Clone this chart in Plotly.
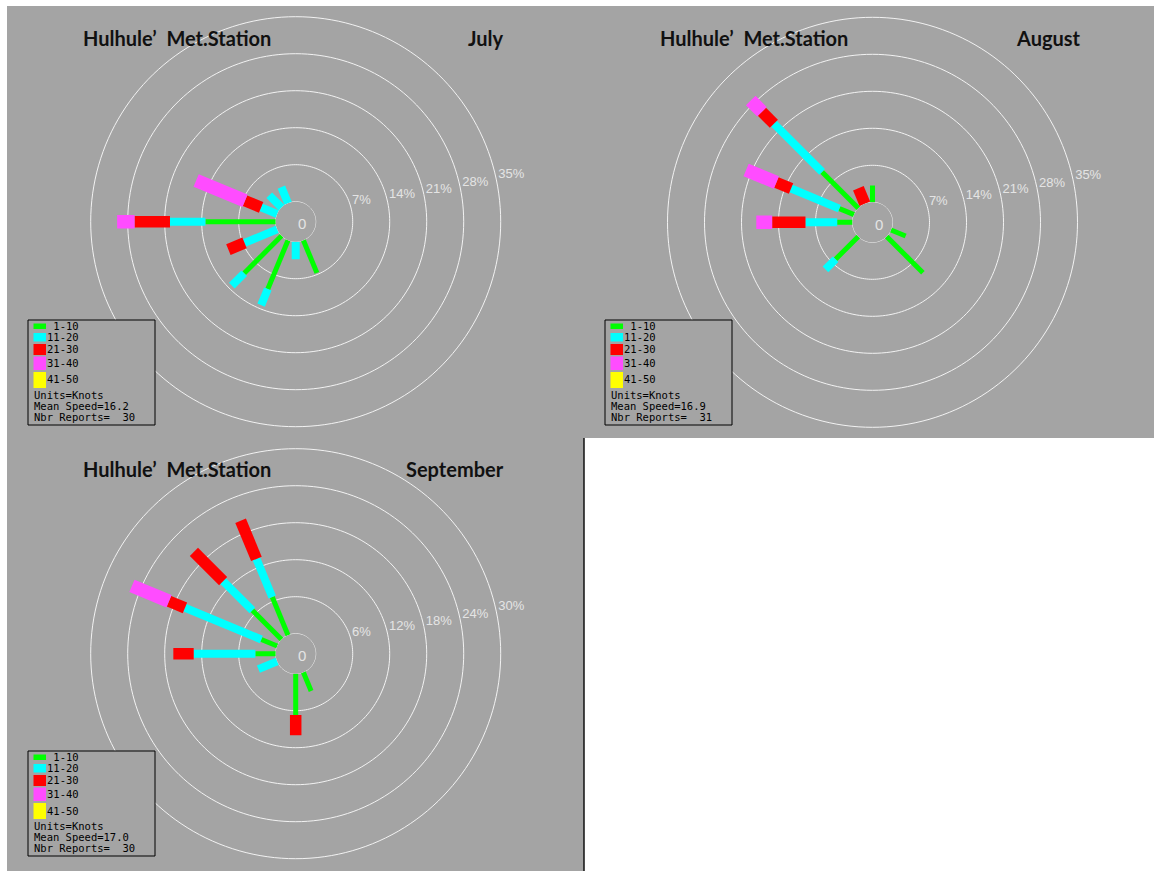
import plotly.graph_objects as go

W, H = 1154, 871

# ---- data -----------------------------------------------------------------
compass = ["N", "NNE", "NE", "ENE", "E", "ESE", "SE", "SSE",
           "S", "SSW", "SW", "WSW", "W", "WNW", "NW", "NNW"]

speed_classes = ["1-10", "11-20", "21-30", "31-40", "41-50"]

# July: percent of reports per direction and speed class (knots)
july_dirs = ["W", "WNW", "NW", "NNW", "WSW", "SW", "SSW", "S", "SSE"]
july_1_10 = [13.3, 0.0, 0.0, 0.0, 0.0, 10.0, 10.0, 0.0, 6.7]
july_11_20 = [6.7, 3.3, 3.3, 3.3, 6.7, 3.3, 3.3, 3.3, 0.0]
july_21_30 = [6.7, 3.3, 0.0, 0.0, 3.3, 0.0, 0.0, 0.0, 0.0]
july_31_40 = [3.3, 10.0, 0.0, 0.0, 0.0, 0.0, 0.0, 0.0, 0.0]
july_41_50 = [0.0, 0.0, 0.0, 0.0, 0.0, 0.0, 0.0, 0.0, 0.0]

# August
aug_dirs = ["N", "NNW", "NW", "WNW", "W", "SW", "SE", "ESE"]
aug_1_10 = [3.2, 0.0, 9.7, 3.0, 2.9, 6.1, 9.7, 3.0]
aug_11_20 = [0.0, 0.0, 12.9, 9.9, 6.0, 2.7, 0.0, 0.0]
aug_21_30 = [0.0, 3.2, 3.2, 3.0, 6.3, 0.0, 0.0, 0.0]
aug_31_40 = [0.0, 0.0, 3.0, 6.2, 3.0, 0.0, 0.0, 0.0]
aug_41_50 = [0.0, 0.0, 0.0, 0.0, 0.0, 0.0, 0.0, 0.0]

# September
sep_dirs = ["W", "WSW", "WNW", "NW", "NNW", "S", "SSE"]
sep_1_10 = [3.3, 0.0, 2.8, 6.7, 6.7, 6.7, 3.3]
sep_11_20 = [10.0, 3.3, 13.4, 6.7, 6.7, 0.0, 0.0]
sep_21_30 = [3.3, 0.0, 2.8, 6.7, 6.7, 3.3, 0.0]
sep_31_40 = [0.0, 0.0, 6.5, 0.0, 0.0, 0.0, 0.0]
sep_41_50 = [0.0, 0.0, 0.0, 0.0, 0.0, 0.0, 0.0]

july_rings = [7, 14, 21, 28, 35]
aug_rings = [7, 14, 21, 28, 35]
sep_rings = [6, 12, 18, 24, 30]

months = ["July", "August", "September"]
mean_speeds = ["16.2", "16.9", "17.0"]
nbr_reports = [30, 31, 30]

# ---- styling --------------------------------------------------------------
PANEL_GRAY = "#a4a4a4"
RING_COLOR = "#f2f2f2"
LABEL_GRAY = "#e4e4e4"
class_colors = ["#00ff00", "#00ffff", "#ff0000", "#ff4cff", "#ffff00"]
class_widths = [5, 8, 11.5, 13.5, 16]
TITLE_FONT = dict(family="Lato", size=20, color="#111111", weight="bold")
MONO_FONT = dict(family="DejaVu Sans Mono", size=10.5, color="#000000")

CALM_PX = 20.0          # radius of the calm circle
RING_STEP_PX = 37.0     # pixel spacing between rings

BEARING = {name: i * 22.5 for i, name in enumerate(compass)}

fig = go.Figure()


def px_x(x):
    return x / W


def px_y(y):
    return 1 - y / H


def add_rose(pid, cx, cy, dirs, classes, rings, rmax):
    step = rings[0]
    ppp = RING_STEP_PX / step              # pixels per percent
    R = CALM_PX + ppp * rmax
    key = "polar" if pid == 1 else f"polar{pid}"
    fig.layout[key] = dict(
        domain=dict(x=[px_x(cx - R), px_x(cx + R)],
                    y=[px_y(cy + R), px_y(cy - R)]),
        hole=CALM_PX / R,
        bgcolor="rgba(0,0,0,0)",
        radialaxis=dict(range=[0, rmax], showline=False, showgrid=False,
                        showticklabels=False, ticks=""),
        angularaxis=dict(rotation=90, direction="clockwise", showline=False,
                         showgrid=False, showticklabels=False, ticks=""),
    )
    sub = key

    # concentric percentage rings, including the calm circle
    th = list(range(0, 361, 2))
    for rv in [0] + rings:
        fig.add_trace(go.Scatterpolar(
            r=[rv] * len(th), theta=th, mode="lines",
            line=dict(color=RING_COLOR, width=1),
            subplot=sub, hoverinfo="skip", showlegend=False))

    # stacked speed-class segments along each direction
    base = [0.0] * len(dirs)
    for ci, vals in enumerate(classes):
        rr, tt = [], []
        for d, b, v in zip(dirs, base, vals):
            if v > 0:
                rr += [b, b + v, None]
                tt += [BEARING[d], BEARING[d], None]
        base = [b + v for b, v in zip(base, vals)]
        if rr:
            fig.add_trace(go.Scatterpolar(
                r=rr, theta=tt, mode="lines", connectgaps=False,
                line=dict(color=class_colors[ci], width=class_widths[ci]),
                subplot=sub, hoverinfo="skip", showlegend=False))

    # ring labels
    label_bearings = [70, 74, 76, 77, 77]
    fig.add_trace(go.Scatterpolar(
        r=[rv + 3.0 / ppp for rv in rings], theta=label_bearings,
        text=[f"{rv}%" for rv in rings], mode="text",
        textposition="middle right", cliponaxis=False,
        textfont=dict(family="Liberation Sans", size=13, color=LABEL_GRAY),
        subplot=sub, hoverinfo="skip", showlegend=False))

    # calm label at the centre
    fig.add_annotation(x=px_x(cx + 6), y=px_y(cy + 2), xref="paper", yref="paper",
                       text="0", showarrow=False, xanchor="center", yanchor="middle",
                       font=dict(family="Liberation Sans", size=15, color=LABEL_GRAY))


def add_panel_text(ox, oy, month, mean_speed, n_reports):
    fig.add_annotation(x=px_x(ox + 81), y=px_y(oy + 38), xref="paper", yref="paper",
                       text="Hulhule\u2019\u00a0 Met.Station", showarrow=False,
                       xanchor="left", yanchor="middle", font=TITLE_FONT)
    fig.add_annotation(x=px_x(ox + 506), y=px_y(oy + 38), xref="paper", yref="paper",
                       text=month, showarrow=False,
                       xanchor="right", yanchor="middle", font=TITLE_FONT)

    # legend box
    fig.add_shape(type="rect", xref="paper", yref="paper",
                  x0=px_x(ox + 28), x1=px_x(ox + 155),
                  y0=px_y(oy + 425), y1=px_y(oy + 320),
                  fillcolor=PANEL_GRAY, line=dict(color="#000000", width=1),
                  layer="above")
    swatch_rows = [(323.5, 329), (333, 341.5), (344, 355), (356.5, 370), (372, 388)]
    for ci, (y0, y1) in enumerate(swatch_rows):
        fig.add_shape(type="rect", xref="paper", yref="paper",
                      x0=px_x(ox + 33.5), x1=px_x(ox + 46),
                      y0=px_y(oy + y1), y1=px_y(oy + y0),
                      fillcolor=class_colors[ci], line=dict(width=0), layer="above")
        label = speed_classes[ci].rjust(5).replace(" ", "\u00a0")
        fig.add_annotation(x=px_x(ox + 45.5), y=px_y(oy + (y0 + y1) / 2 - 0.5),
                           xref="paper", yref="paper", text=label, showarrow=False,
                           xanchor="left", yanchor="middle", font=MONO_FONT,
                           borderpad=0)
    lines = ["Units=Knots", f"Mean Speed={mean_speed}",
             f"Nbr Reports={str(n_reports).rjust(4)}"]
    for k, t in enumerate(lines):
        fig.add_annotation(x=px_x(ox + 33), y=px_y(oy + 394.8 + 11.0 * k),
                           xref="paper", yref="paper",
                           text=t.replace(" ", "\u00a0"), showarrow=False,
                           xanchor="left", yanchor="middle", font=MONO_FONT,
                           borderpad=0)


# panel backgrounds
fig.add_shape(type="rect", xref="paper", yref="paper",
              x0=px_x(7), x1=px_x(1154), y0=px_y(438), y1=px_y(6),
              fillcolor=PANEL_GRAY, line=dict(width=0), layer="below")
fig.add_shape(type="rect", xref="paper", yref="paper",
              x0=px_x(7), x1=px_x(584), y0=px_y(871), y1=px_y(437),
              fillcolor=PANEL_GRAY, line=dict(width=0), layer="below")
fig.add_shape(type="line", xref="paper", yref="paper",
              x0=px_x(584), x1=px_x(584), y0=px_y(871), y1=px_y(438),
              line=dict(color="#111111", width=1.5), layer="above")

add_rose(1, 295.7, 221.7, july_dirs,
         [july_1_10, july_11_20, july_21_30, july_31_40, july_41_50], july_rings, 38)
add_rose(2, 872.5, 222.3, aug_dirs,
         [aug_1_10, aug_11_20, aug_21_30, aug_31_40, aug_41_50], aug_rings, 38)
add_rose(3, 295.7, 653.7, sep_dirs,
         [sep_1_10, sep_11_20, sep_21_30, sep_31_40, sep_41_50], sep_rings, 31.5)

add_panel_text(0, 0, months[0], mean_speeds[0], nbr_reports[0])
add_panel_text(577, 0, months[1], mean_speeds[1], nbr_reports[1])
add_panel_text(0, 431, months[2], mean_speeds[2], nbr_reports[2])

fig.update_layout(width=W, height=H, margin=dict(l=0, r=0, t=0, b=0),
                  paper_bgcolor="#ffffff", plot_bgcolor="#ffffff", showlegend=False)

fig.write_html("out.html", config=dict(displayModeBar=False))
